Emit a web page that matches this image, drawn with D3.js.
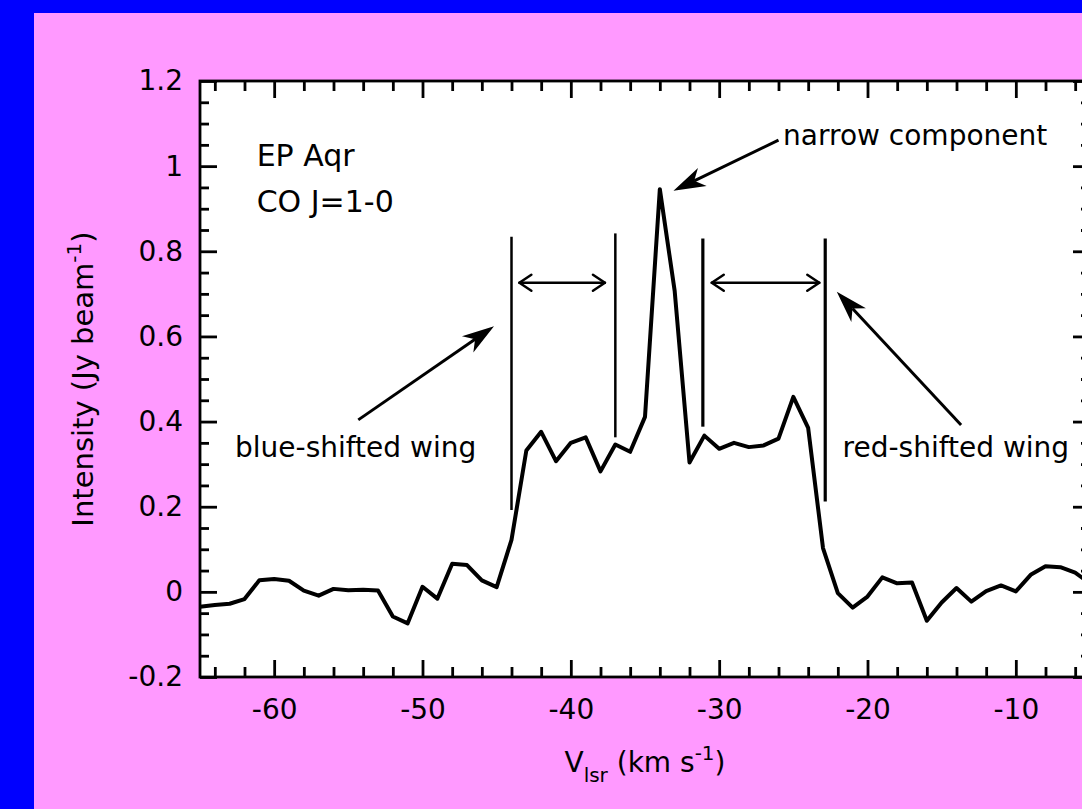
<!DOCTYPE html>
<html>
<head>
<meta charset="utf-8">
<script src="https://cdn.jsdelivr.net/npm/d3@7"></script>
<style>
  html, body { margin: 0; padding: 0; background: #0000ff; overflow: hidden; }
  svg { display: block; }
  text { font-family: "DejaVu Sans", Verdana, sans-serif; fill: #000; }
</style>
</head>
<body>
<div id="chart"></div>
<script>
const W = 1082, H = 809;

// spectrum, km/s vs Jy/beam
const velocity = [-65, -64, -63, -62, -61, -60, -59, -58, -57, -56, -55, -54, -53, -52, -51, -50,
  -49, -48, -47, -46, -45, -44, -43, -42, -41, -40, -39, -38, -37, -36, -35, -34, -33, -32,
  -31, -30, -29, -28, -27, -26, -25, -24, -23, -22, -21, -20, -19, -18, -17, -16, -15, -14,
  -13, -12, -11, -10, -9, -8, -7, -6, -5];
const intensity = [-0.035, -0.031, -0.028, -0.017, 0.027, 0.030, 0.026, 0.003, -0.009, 0.007,
  0.004, 0.005, 0.003, -0.058, -0.074, 0.012, -0.016, 0.066, 0.063, 0.027, 0.011, 0.122,
  0.332, 0.376, 0.307, 0.350, 0.363, 0.283, 0.346, 0.329, 0.411, 0.946, 0.707, 0.304, 0.367,
  0.336, 0.350, 0.340, 0.344, 0.360, 0.458, 0.385, 0.103, -0.003, -0.037, -0.011, 0.034,
  0.020, 0.022, -0.068, -0.025, 0.009, -0.023, 0.002, 0.015, 0.001, 0.040, 0.060, 0.058,
  0.045, 0.020];

const xTicks = [-60, -50, -40, -30, -20, -10];
const yTicks = [-0.2, 0, 0.2, 0.4, 0.6, 0.8, 1, 1.2];

// wing boundaries: [velocity, bottom, top]
const markers = [[-44, 0.192, 0.834], [-37, 0.363, 0.842], [-31.1, 0.388, 0.830], [-22.85, 0.212, 0.830]];
// double-headed arrows: [v1, v2, level]
const spans = [[-43.47, -37.70, 0.726], [-30.50, -23.25, 0.726]];
// labels: [text, v, level, size]
const labels = [
  ['EP Aqr', -61.18, 1.001, 30],
  ['CO J=1-0', -61.18, 0.893, 30],
  ['narrow component', -25.69, 1.05, 28],
  ['blue-shifted wing', -62.64, 0.317, 28],
  ['red-shifted wing', -21.68, 0.317, 28]
];
// pointer arrows: [tailV, tailI, tipV, tipI]
const pointers = [[-26.0, 1.061, -33.08, 0.942], [-54.33, 0.404, -45.18, 0.624], [-13.69, 0.392, -22.07, 0.705]];

const margin = { left: 200, top: 81, right: 1090, bottom: 677 };

const svg = d3.select('#chart').append('svg')
  .attr('width', W).attr('height', H);

svg.append('rect').attr('x', 34).attr('y', 13)
  .attr('width', W - 34).attr('height', H - 13).attr('fill', '#ff99ff');

const x = d3.scaleLinear().domain([-65, -5]).range([margin.left, margin.right]);
const y = d3.scaleLinear().domain([-0.2, 1.2]).range([margin.bottom, margin.top]);

svg.append('rect')
  .attr('x', margin.left).attr('y', margin.top)
  .attr('width', margin.right - margin.left).attr('height', margin.bottom - margin.top)
  .attr('fill', '#fff');

const xMinor = d3.range(-64, -5, 2).filter(v => v % 10 !== 0);
const yMinor = d3.range(-0.15, 1.2, 0.05).filter(v => Math.abs(v * 5 - Math.round(v * 5)) > 0.01);

function styleAxis (g) {
  g.select('.domain').remove();
  g.selectAll('line').attr('stroke', '#000').attr('stroke-width', 2.8);
  g.selectAll('text').attr('font-size', 28).attr('fill', '#000')
    .attr('font-family', '"DejaVu Sans", Verdana, sans-serif');
}

const fmtY = d => String(+d.toFixed(1));

// bottom
svg.append('g').attr('transform', `translate(0,${margin.bottom})`)
  .call(d3.axisBottom(x).tickValues(xTicks).tickSize(-17).tickPadding(22).tickFormat(d => String(d)))
  .call(styleAxis);
svg.append('g').attr('transform', `translate(0,${margin.bottom})`)
  .call(d3.axisBottom(x).tickValues(xMinor).tickSize(-10).tickFormat(''))
  .call(styleAxis);
// top
svg.append('g').attr('transform', `translate(0,${margin.top})`)
  .call(d3.axisTop(x).tickValues(xTicks).tickSize(-17).tickFormat(''))
  .call(styleAxis);
svg.append('g').attr('transform', `translate(0,${margin.top})`)
  .call(d3.axisTop(x).tickValues(xMinor).tickSize(-10).tickFormat(''))
  .call(styleAxis);
// left
svg.append('g').attr('transform', `translate(${margin.left},0)`)
  .call(d3.axisLeft(y).tickValues(yTicks).tickSize(-17).tickPadding(17).tickFormat(fmtY))
  .call(styleAxis);
svg.append('g').attr('transform', `translate(${margin.left},0)`)
  .call(d3.axisLeft(y).tickValues(yMinor).tickSize(-9).tickFormat(''))
  .call(styleAxis);
// right
svg.append('g').attr('transform', `translate(${margin.right},0)`)
  .call(d3.axisRight(y).tickValues(yTicks).tickSize(-17).tickFormat(''))
  .call(styleAxis);
svg.append('g').attr('transform', `translate(${margin.right},0)`)
  .call(d3.axisRight(y).tickValues(yMinor).tickSize(-9).tickFormat(''))
  .call(styleAxis);

// frame
svg.append('rect')
  .attr('x', margin.left).attr('y', margin.top)
  .attr('width', margin.right - margin.left).attr('height', margin.bottom - margin.top)
  .attr('fill', 'none').attr('stroke', '#000').attr('stroke-width', 2.8);

// spectrum
const line = d3.line().x((d, i) => x(velocity[i])).y(d => y(d));
svg.append('path').datum(intensity)
  .attr('d', line)
  .attr('fill', 'none').attr('stroke', '#000')
  .attr('stroke-width', 4).attr('stroke-linejoin', 'round');

// wing markers
svg.selectAll('.marker').data(markers).enter().append('line')
  .attr('x1', d => x(d[0])).attr('x2', d => x(d[0]))
  .attr('y1', d => y(d[1])).attr('y2', d => y(d[2]))
  .attr('stroke', '#000').attr('stroke-width', (d, i) => i === 0 || i === 1 ? 2.5 : 3.2);

// double arrows with open heads
spans.forEach(s => {
  const x1 = x(s[0]), x2 = x(s[1]), yy = y(s[2]);
  const g = svg.append('g').attr('stroke', '#000').attr('stroke-width', 2.5).attr('fill', 'none')
    .attr('stroke-linecap', 'round').attr('stroke-linejoin', 'round');
  g.append('line').attr('x1', x1).attr('x2', x2).attr('y1', yy).attr('y2', yy);
  g.append('path').attr('d', `M${x1 + 12},${yy - 8}L${x1},${yy}L${x1 + 12},${yy + 8}`);
  g.append('path').attr('d', `M${x2 - 12},${yy - 8}L${x2},${yy}L${x2 - 12},${yy + 8}`);
});

// pointer arrows with filled barbed heads
pointers.forEach(p => {
  const tx = x(p[0]), ty = y(p[1]), hx = x(p[2]), hy = y(p[3]);
  const len = Math.hypot(hx - tx, hy - ty);
  const ux = (hx - tx) / len, uy = (hy - ty) / len;
  const nx = -uy, ny = ux;
  const L = 32, Wd = 10, N = 23;
  svg.append('line')
    .attr('x1', tx).attr('y1', ty)
    .attr('x2', hx - ux * N).attr('y2', hy - uy * N)
    .attr('stroke', '#000').attr('stroke-width', 3);
  const pts = [
    [hx, hy],
    [hx - ux * L + nx * Wd, hy - uy * L + ny * Wd],
    [hx - ux * N, hy - uy * N],
    [hx - ux * L - nx * Wd, hy - uy * L - ny * Wd]
  ];
  svg.append('path').attr('d', 'M' + pts.map(q => q.join(',')).join('L') + 'Z').attr('fill', '#000');
});

// annotations
svg.selectAll('.lab').data(labels).enter().append('text')
  .attr('x', d => x(d[1])).attr('y', d => y(d[2]))
  .attr('font-size', d => d[3])
  .text(d => d[0]);

// axis titles
const xt = svg.append('text')
  .attr('x', (margin.left + margin.right) / 2).attr('y', 772)
  .attr('text-anchor', 'middle').attr('font-size', 28);
xt.append('tspan').text('V');
xt.append('tspan').attr('font-size', 20).attr('dy', 10).text('lsr');
xt.append('tspan').attr('dy', -10).text(' (km s');
xt.append('tspan').attr('font-size', 20).attr('dy', -12).text('-1');
xt.append('tspan').attr('dy', 12).text(')');

const yt = svg.append('text')
  .attr('transform', `translate(93,${(margin.top + margin.bottom) / 2}) rotate(-90)`)
  .attr('text-anchor', 'middle').attr('font-size', 29);
yt.append('tspan').text('Intensity (Jy beam');
yt.append('tspan').attr('font-size', 20).attr('dy', -12).text('-1');
yt.append('tspan').attr('dy', 12).text(')');
</script>
</body>
</html>
